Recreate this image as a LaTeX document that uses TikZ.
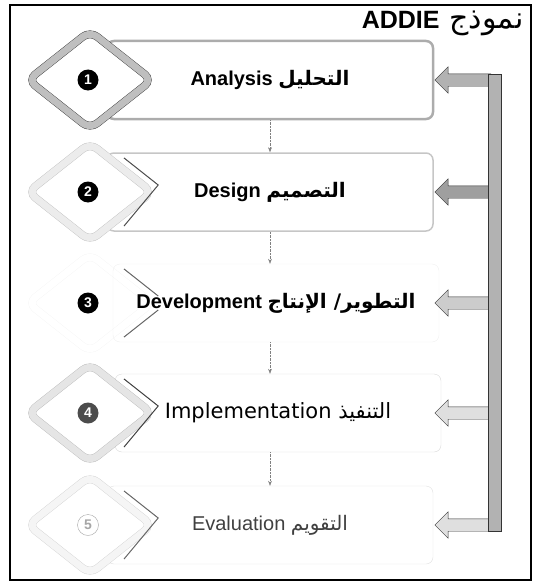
\documentclass[tikz,border=0pt]{standalone}
\usepackage{fontspec}
\setmainfont{Liberation Sans}
\newfontfamily\arabicfont[Script=Arabic]{DejaVu Sans}
\newfontfamily\widefont{DejaVu Sans}
\TeXXeTstate=1
\usetikzlibrary{shapes.geometric,shapes.arrows,arrows.meta,calc}
\newcommand{\artext}[1]{{\arabicfont\beginR #1\endR}}
\tikzset{
  stagebox/.style={draw, rounded corners=7pt, minimum width=326pt, minimum height=78pt, font=\bfseries\fontsize{20}{22}\selectfont},
  stagediamond/.style={diamond, draw, double, double distance=7pt, rounded corners=9pt, fill=white, minimum width=124pt, minimum height=98pt, inner sep=0pt},
  stagenum/.style={circle, fill=black, text=white, font=\bfseries\fontsize{14}{14}\selectfont, minimum size=21pt, inner sep=0pt},
  dshade/.style={line width=1pt},
  backarrow/.style={single arrow, draw=black!80, shape border rotate=180, minimum height=56pt, inner xsep=0pt, inner ysep=6pt, single arrow head extend=7pt},
  stepdown/.style={densely dotted, gray, -{Stealth[length=5pt]}},
}

\begin{document}
\begin{tikzpicture}[x=1pt,y=-1pt]
        \useasboundingbox (0,0) rectangle (535,586);
        \draw[line width=1.4pt] (10,5) rectangle (531,580);
        \node[anchor=east] (title) at (527,23) {{\bfseries\fontsize{25}{28}\selectfont ADDIE}\hspace{10pt}{\fontsize{30}{32}\selectfont\artext{نموذج}}};

        \node[stagediamond, draw=gray!8, double=white, fill=none] (d3) at (90,303) {};

        \node[stagebox, draw=gray!65, line width=2.5pt] (b1) at (270,80) {Analysis \artext{التحليل}};
        \node[stagebox, draw=gray!45, line width=1.5pt] (b2) at (270,192) {Design \artext{التصميم}};
        \node[stagebox, draw=gray!12] (b3) at (276,303) {Development \artext{التطوير/ الإنتاج}};
        \node[stagebox, draw=gray!30, font=\widefont\fontsize{21}{23}\selectfont] (b4) at (278,413) {Implementation \artext{التنفيذ}};
        \node[stagebox, draw=gray!25, font=\fontsize{20}{22}\selectfont, text=black!75] (b5) at (270,525) {Evaluation \artext{التقويم}};

        \node[stagediamond, draw=black!80, double=gray!50] (d1) at (90,80) {};
        \node[stagediamond, draw=gray!50, double=gray!15] (d2) at (90,192) {};
        \node[stagediamond, draw=gray!55, double=gray!20] (d4) at (90,413) {};
        \node[stagediamond, draw=gray!35, double=gray!8] (d5) at (90,525) {};

        \draw[dshade, black!70] ([shift={(6,-7)}]$(d2.north)!0.45!(d2.east)$) -- ([shift={(6,-7)}]d2.east) -- ([shift={(6,7)}]$(d2.south)!0.45!(d2.east)$);
        \draw[dshade, black!60] ([shift={(6,-7)}]$(d3.north)!0.45!(d3.east)$) -- ([shift={(6,-7)}]d3.east);
        \draw[dshade, black!60] ([shift={(6,7)}]d3.east) -- ([shift={(6,7)}]$(d3.south)!0.45!(d3.east)$);
        \draw[dshade, black!75] ([shift={(6,-7)}]$(d4.north)!0.45!(d4.east)$) -- ([shift={(6,-7)}]d4.east) -- ([shift={(6,7)}]$(d4.south)!0.45!(d4.east)$);
        \draw[dshade, black!60] ([shift={(6,-7)}]$(d5.north)!0.45!(d5.east)$) -- ([shift={(6,-7)}]d5.east) -- ([shift={(6,7)}]$(d5.south)!0.45!(d5.east)$);

        \node[stagenum] (n1) at (88,80) {1};
        \node[stagenum] (n2) at (88,192) {2};
        \node[stagenum] (n3) at (88,303) {3};
        \node[stagenum, fill=black!70] (n4) at (88,413) {4};
        \node[stagenum, fill=white, draw=gray!70, text=gray!70] (n5) at (88,525) {5};

        \draw[stepdown] (b1.south) -- (b2.north);
        \draw[stepdown] (b2.south) -- ([xshift=-6pt]b3.north);
        \draw[stepdown] ([xshift=-6pt]b3.south) -- ([xshift=-8pt]b4.north);
        \draw[stepdown] ([xshift=-8pt]b4.south) -- (b5.north);

        \node[backarrow, fill=gray!60] (ar1) at (466,80) {};
        \node[backarrow, fill=gray!75] (ar2) at (466,192) {};
        \node[backarrow, fill=gray!40] (ar3) at (466,303) {};
        \node[backarrow, fill=gray!25] (ar4) at (466,413) {};
        \node[backarrow, fill=gray!25] (ar5) at (466,525) {};

        \coordinate (bartop) at (501,74);
        \coordinate (barbot) at (488,531);
        \draw[draw=black!80, fill=gray!60] (bartop) rectangle (barbot);
\end{tikzpicture}
\end{document}
